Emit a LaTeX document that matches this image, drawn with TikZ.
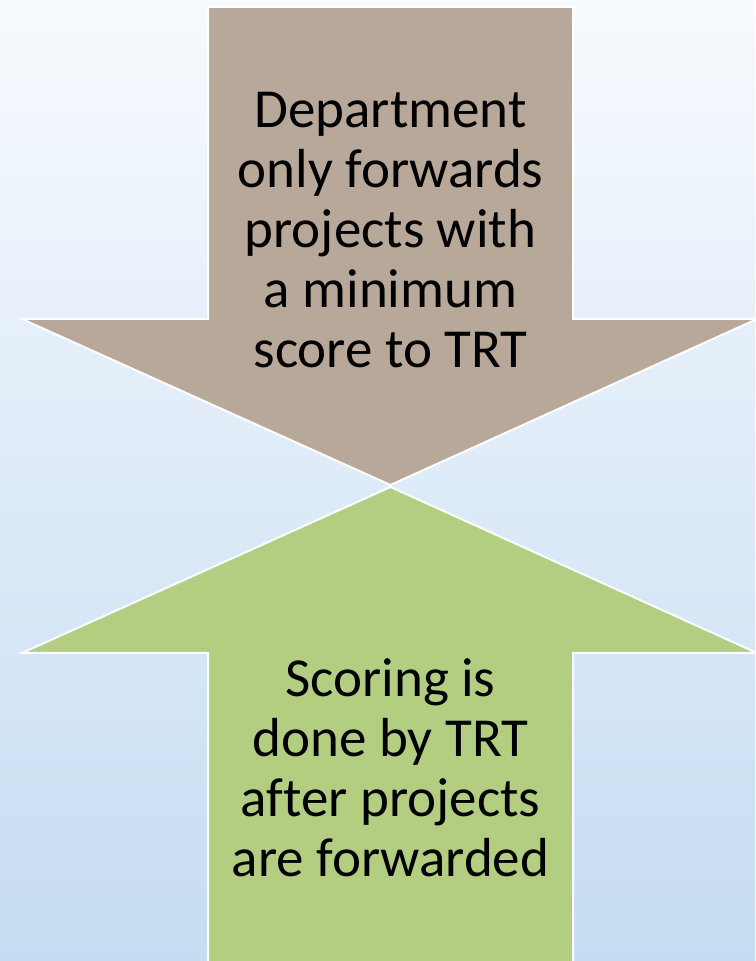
\documentclass[tikz,border=0pt]{standalone}
\usepackage{fontspec}
\setmainfont{Carlito}[Ligatures=CommonOff]
\definecolor{downfill}{HTML}{B8A899}
\definecolor{upfill}{HTML}{B3CD81}
\definecolor{bgtop}{HTML}{F7FAFE}
\definecolor{bgbottom}{HTML}{C5DCF2}
\begin{document}
\begin{tikzpicture}[x=1pt, y=1pt, line join=miter, font=\fontsize{55}{60}\selectfont,
	arrowbody/.style={draw=white, line width=2pt},
	arrowtext/.style={align=center, text=black, inner sep=0pt}]
			\shade[top color=bgtop, bottom color=bgbottom] (0,0) rectangle (755,961);
			\useasboundingbox (0,0) rectangle (755,961);
			% arrow from the top
			\draw[arrowbody, fill=downfill] (208,954)--(573,954)--(573,642)--(757,642)
			--(390.5,476)coordinate(T)--(22,642)--(208,642)--cycle;
			% arrow from the bottom
			\draw[arrowbody, fill=upfill] (208,-5)--(573,-5)--(573,308)--(757,308)
			--(390.5,474)--(22,308)--(208,308)--cycle;
			\node[arrowtext] (down) at (390.5,731) {Department\\only forwards\\projects with\\a minimum\\score to TRT};
			\node[arrowtext] (up) at (390.5,193) {Scoring is\\done by TRT\\after projects\\are forwarded};
			\end{tikzpicture}
\end{document}
